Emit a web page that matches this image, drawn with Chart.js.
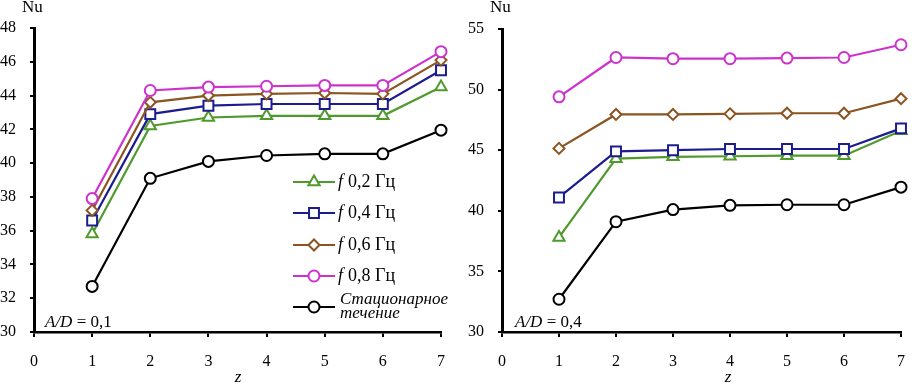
<!DOCTYPE html>
<html>
<head>
<meta charset="utf-8">
<script src="https://cdn.jsdelivr.net/npm/chart.js@4/dist/chart.umd.min.js"></script>
<style>
  body { margin: 0; background: #fff; }
  #wrap { position: relative; width: 920px; height: 384px; }
  canvas { position: absolute; top: 0; }
</style>
</head>
<body>
<div id="wrap">
  <canvas id="left" width="460" height="384" style="left:0"></canvas>
  <canvas id="right" width="460" height="384" style="left:460px"></canvas>
</div>
<script>
// z positions
const zValues = [1, 2, 3, 4, 5, 6, 7];

// A/D = 0,1
const left_f02 = [35.8, 42.2, 42.7, 42.8, 42.8, 42.8, 44.5];
const left_f04 = [36.6, 42.9, 43.4, 43.5, 43.5, 43.5, 45.5];
const left_f06 = [37.2, 43.6, 44.0, 44.1, 44.15, 44.1, 46.1];
const left_f08 = [37.9, 44.3, 44.5, 44.55, 44.6, 44.6, 46.6];
const left_stat = [32.7, 39.1, 40.1, 40.45, 40.55, 40.55, 41.95];

// A/D = 0,4
const right_f02 = [37.8, 44.3, 44.45, 44.5, 44.55, 44.55, 46.6];
const right_f04 = [41.1, 44.9, 45.0, 45.1, 45.1, 45.1, 46.8];
const right_f06 = [45.15, 47.95, 47.95, 48.0, 48.05, 48.05, 49.25];
const right_f08 = [49.4, 52.65, 52.55, 52.55, 52.6, 52.65, 53.7];
const right_stat = [32.7, 39.1, 40.1, 40.45, 40.5, 40.5, 41.95];

const seriesLabels = ["0,2 Гц", "0,4 Гц", "0,6 Гц", "0,8 Гц", "Стационарное"];
const seriesColors = ["#4f9a2c", "#1c1c8e", "#8a5520", "#cc33cc", "#000000"];
const seriesShapes = ["triangle", "rect", "rectRot", "circle", "circle"];
const seriesRadius = [6.5, 7, 5.5, 5.5, 5.5];

const serif = "'Liberation Serif', 'Times New Roman', serif";

function make_datasets(arrays) {
  let ds = [];
  for (let i = 0; i < arrays.length; i++) {
    ds.push({
      label: seriesLabels[i],
      data: zValues.map((z, k) => ({x: z, y: arrays[i][k]})),
      borderColor: seriesColors[i],
      backgroundColor: "#ffffff",
      borderWidth: 2.2,
      pointStyle: seriesShapes[i],
      pointRadius: seriesRadius[i],
      pointBorderWidth: 2,
      pointBorderColor: seriesColors[i],
      pointBackgroundColor: "#ffffff",
      clip: false,
    });
  }
  // draw the black one at the back
  return ds.reverse();
}

// small marker for the hand drawn legend
function draw_marker(ctx, shape, x, y, r, color) {
  ctx.save();
  ctx.strokeStyle = color;
  ctx.fillStyle = "#fff";
  ctx.lineWidth = 2;
  ctx.beginPath();
  if (shape == "circle") {
    ctx.arc(x, y, r, 0, Math.PI * 2);
  } else if (shape == "rect") {
    let s = r * Math.SQRT1_2;
    ctx.rect(x - s, y - s, 2 * s, 2 * s);
  } else if (shape == "rectRot") {
    ctx.moveTo(x - r, y); ctx.lineTo(x, y - r); ctx.lineTo(x + r, y); ctx.lineTo(x, y + r); ctx.closePath();
  } else if (shape == "triangle") {
    ctx.moveTo(x, y - r); ctx.lineTo(x + r * 0.866, y + r * 0.5); ctx.lineTo(x - r * 0.866, y + r * 0.5); ctx.closePath();
  }
  ctx.fill();
  ctx.stroke();
  ctx.restore();
}

function text_plugin(ad, withLegend, nuX, zX, adX) {
  return {
    id: "texts",
    afterDraw(chart) {
      const ctx = chart.ctx;
      ctx.save();
      ctx.fillStyle = "#000";
      ctx.textBaseline = "middle";
      ctx.textAlign = "left";
      ctx.font = "17px " + serif;
      ctx.fillText("Nu", nuX, 8);
      ctx.textAlign = "center";
      ctx.font = "italic 17px " + serif;
      ctx.fillText("z", zX, 378);

      // A/D annotation
      ctx.textAlign = "left";
      ctx.textBaseline = "alphabetic";
      ctx.font = "italic 17px " + serif;
      ctx.fillText("A/D", adX, 327);
      let w = ctx.measureText("A/D").width;
      ctx.font = "17px " + serif;
      ctx.fillText(" = " + ad, adX + w, 327);

      if (withLegend) {
        const rows = [182, 213, 245, 276, 307];
        for (let i = 0; i < 5; i++) {
          let y = rows[i];
          ctx.strokeStyle = seriesColors[i];
          ctx.lineWidth = 2.2;
          ctx.beginPath();
          ctx.moveTo(293, y);
          ctx.lineTo(335, y);
          ctx.stroke();
          draw_marker(ctx, seriesShapes[i], 314, y, seriesRadius[i], seriesColors[i]);
          ctx.fillStyle = "#000";
          ctx.textBaseline = "middle";
          if (i < 4) {
            ctx.font = "italic 18px " + serif;
            ctx.fillText("f", 338, y);
            ctx.font = "18px " + serif;
            ctx.fillText(seriesLabels[i], 348, y);
          } else {
            ctx.font = "italic 17px " + serif;
            ctx.fillText("Стационарное", 340, y - 7);
            ctx.fillText("течение", 340, y + 7);
          }
        }
      }
      ctx.restore();
    }
  };
}

function plot_panel(canvasId, arrays, ymax, ystep, yWidth, labelPad, padRight, padTop, ad, legend, nuX, zX, adX) {
  const options = {
    responsive: false,
    animation: false,
    layout: { padding: { top: padTop, right: padRight, bottom: 0, left: 0 } },
    plugins: { legend: { display: false }, tooltip: { enabled: false } },
    scales: {
      x: {
        type: "linear",
        min: 0, max: 7,
        afterFit: function(scale) { scale.height = 52; },
        ticks: { stepSize: 1, color: "#000", font: { family: serif, size: 16 }, padding: 15 },
        grid: { drawOnChartArea: false, drawTicks: true, tickLength: 5, color: "#000", lineWidth: 2 },
        border: { color: "#000", width: 2.5 },
      },
      y: {
        min: 30, max: ymax,
        afterFit: function(scale) { scale.width = yWidth; },
        ticks: { stepSize: ystep, color: "#000", font: { family: serif, size: 16 }, padding: labelPad },
        grid: { drawOnChartArea: false, drawTicks: true, tickLength: 4, color: "#000", lineWidth: 2 },
        border: { color: "#000", width: 3 },
      }
    }
  };
  const ctx = document.getElementById(canvasId).getContext("2d");
  return new Chart(ctx, {
    type: "line",
    data: { datasets: make_datasets(arrays) },
    options: options,
    plugins: [text_plugin(ad, legend, nuX, zX, adX)],
  });
}

plot_panel("left", [left_f02, left_f04, left_f06, left_f08, left_stat],
  48, 2, 34, 14, 19, 28, "0,1", true, 22, 238, 45);
plot_panel("right", [right_f02, right_f04, right_f06, right_f08, right_stat],
  55, 5, 42, 14, 7, 29, "0,4", false, 30, 268, 55);
</script>
</body>
</html>
